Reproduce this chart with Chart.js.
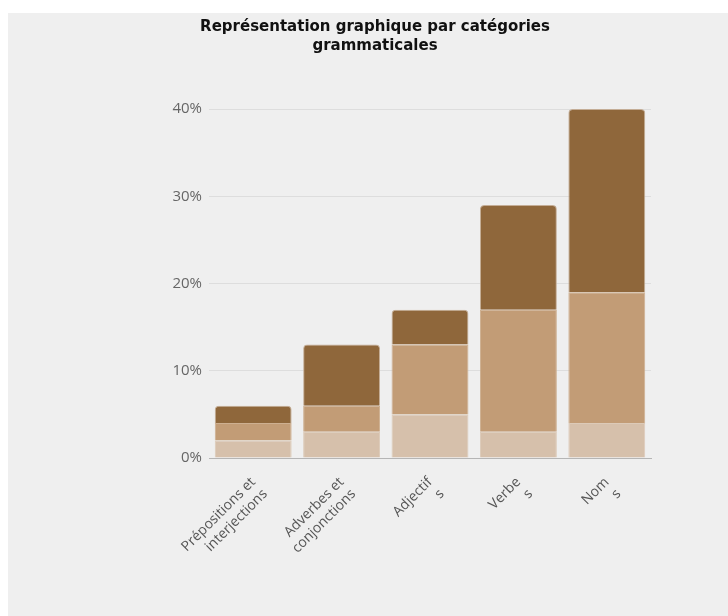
<!DOCTYPE html>
<html lang="fr">
<head>
<meta charset="utf-8">
<script src="https://cdn.jsdelivr.net/npm/chart.js@4.4.1/dist/chart.umd.min.js"></script>
<style>
  body { margin: 0; background: #ffffff; }
  #wrap { position: absolute; left: 8px; top: 13px; width: 720px; height: 603px; background: #efefef; }
</style>
</head>
<body>
<div id="wrap"><canvas id="grammarChart"></canvas></div>
<script>
// Catégories grammaticales (libellés coupés comme dans l'original)
const categories = [
  ['Prépositions et', 'interjections'],
  ['Adverbes et', 'conjonctions'],
  ['Adjectif', 's'],
  ['Verbe', 's'],
  ['Nom', 's']
];

// Valeurs en % (empilées)
const partBasse = [2, 3, 5, 3, 4];
const partMilieu = [2, 3, 8, 14, 15];
const partHaute = [2, 7, 4, 12, 21];

const yTicks = [0, 10, 20, 30, 40];

const ctx = document.getElementById('grammarChart').getContext('2d');
new Chart(ctx, {
  type: 'bar',
  data: {
    labels: categories,
    datasets: [
      {
        data: partBasse,
        backgroundColor: '#d6c0ab',
        borderColor: '#dccab8',
        borderWidth: 1
      },
      {
        data: partMilieu,
        backgroundColor: '#c29c76',
        borderColor: '#cdaf90',
        borderWidth: 1
      },
      {
        data: partHaute,
        backgroundColor: '#8f673b',
        borderColor: '#c4ad96',
        borderWidth: 1,
        borderRadius: { topLeft: 4, topRight: 4 },
        borderSkipped: 'bottom'
      }
    ]
  },
  options: {
    responsive: true,
    maintainAspectRatio: false,
    animation: false,
    barPercentage: 0.87,
    categoryPercentage: 1,
    layout: {
      padding: { left: 91, right: 77, top: 5, bottom: 38 }
    },
    plugins: {
      legend: { display: false },
      tooltip: { enabled: false },
      title: {
        display: true,
        text: ['Représentation graphique par catégories', 'grammaticales'],
        color: '#111111',
        font: { family: 'DejaVu Sans', size: 15, weight: 'bold', lineHeight: 1.27 },
        padding: { top: 0, bottom: 53 }
      }
    },
    scales: {
      x: {
        stacked: true,
        grid: { display: false },
        border: { display: true, color: '#b5b5b5' },
        ticks: {
          color: '#555555',
          font: { family: 'Open Sans', size: 14 },
          maxRotation: 45,
          minRotation: 45,
          padding: 8
        },
        afterFit: (scale) => { scale.height = 120; }
      },
      y: {
        stacked: true,
        min: 0,
        max: 40,
        afterBuildTicks: (scale) => { scale.ticks = yTicks.map(v => ({ value: v })); },
        grid: { color: '#dddddd', drawTicks: false },
        border: { display: false },
        ticks: {
          color: '#666666',
          font: { family: 'Open Sans', size: 15 },
          padding: 7,
          callback: (v) => v + '%'
        },
        afterFit: (scale) => { scale.width = 110; }
      }
    }
  }
});
</script>
</body>
</html>
